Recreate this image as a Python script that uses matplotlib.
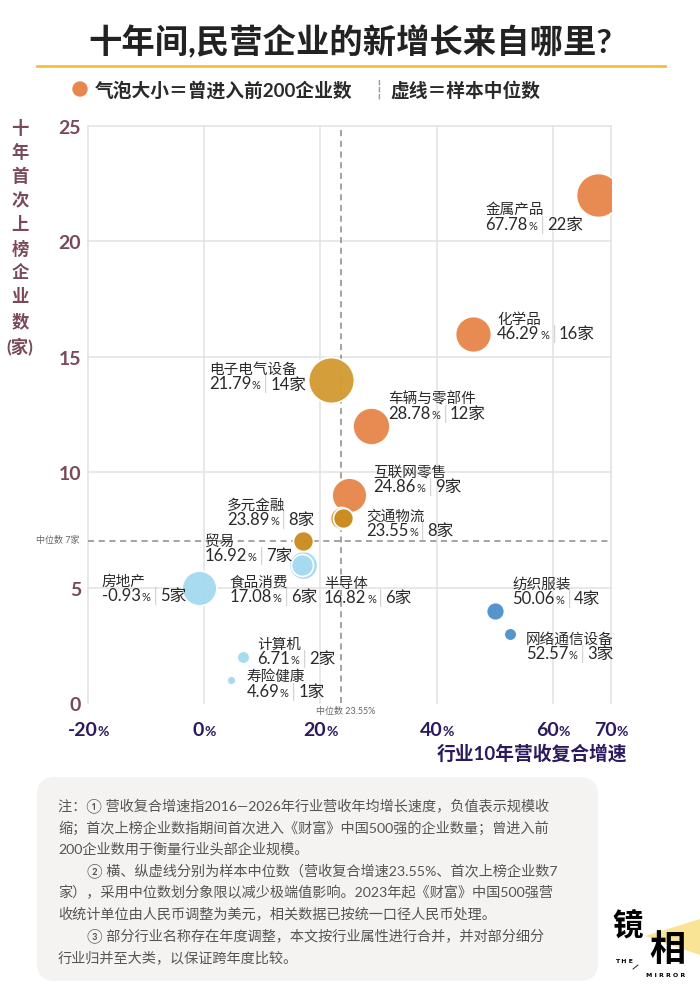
"""Bubble chart: where the new growth of private companies came from over ten years."""

import matplotlib.pyplot as plt
from matplotlib.offsetbox import AnnotationBbox, HPacker, TextArea, VPacker
from matplotlib.patches import Circle, FancyBboxPatch, Polygon

plt.rcParams["font.family"] = ["Lato", "Noto Sans CJK SC", "DejaVu Sans"]

W, H = 700, 1004

# --- data -------------------------------------------------------------------
industries = ["金属产品", "化学品", "车辆与零部件", "电子电气设备", "互联网零售",
              "交通物流", "多元金融", "贸易", "食品消费", "半导体", "房地产",
              "计算机", "寿险健康", "纺织服装", "网络通信设备"]
growth = [67.78, 46.29, 28.78, 21.79, 24.86, 23.55, 23.89, 16.92, 17.08,
          16.82, -0.93, 6.71, 4.69, 50.06, 52.57]
new_firms = [22, 16, 12, 14, 9, 8, 8, 7, 6, 6, 5, 2, 1, 4, 3]
top200 = [24, 16, 17, 26, 15, 6, 5, 5, 10, 6, 15, 2, 1, 4, 2]

median_growth = 23.55
median_firms = 7
x_ticks = [-20, 0, 20, 40, 60, 70]
y_ticks = [0, 5, 10, 15, 20, 25]

notes = [
    (58, "注：① 营收复合增速指2016—2026年行业营收年均增长速度，负值表示规模收"),
    (58, "缩；首次上榜企业数指期间首次进入《财富》中国500强的企业数量；曾进入前"),
    (58, "200企业数用于衡量行业头部企业规模。"),
    (87, "② 横、纵虚线分别为样本中位数（营收复合增速23.55%、首次上榜企业数7"),
    (58, "家），采用中位数划分象限以减少极端值影响。2023年起《财富》中国500强营"),
    (58, "收统计单位由人民币调整为美元，相关数据已按统一口径人民币处理。"),
    (87, "③ 部分行业名称存在年度调整，本文按行业属性进行合并，并对部分细分"),
    (58, "行业归并至大类，以保证跨年度比较。"),
]

# --- styles -------------------------------------------------------------------
ORANGE = "#E8874D"
GOLD = "#D39B33"
DGOLD = "#CB8D22"
LBLUE = "#A6DAF0"
BLUE = "#4F91CC"
TEXT = "#2a2a2a"
MAROON = "#7A4A5C"
INDIGO = "#2C1A5E"

colors = [ORANGE, ORANGE, ORANGE, GOLD, ORANGE, DGOLD, DGOLD, DGOLD,
          LBLUE, LBLUE, LBLUE, LBLUE, LBLUE, BLUE, BLUE]
# label offset of the name line (px from bubble centre: right, down)
label_offsets = [(-113, 16), (24, -13), (17, -26), (-122, -9), (25, -22),
                 (25, -1), (-116, -12), (-98, 1), (-74, 19), (22, 20),
                 (-97, -5), (14, -11), (15, -2), (17, -25), (16, 7)]


def px(v):
    return v * 72 / 100


def bubble_size(n):
    r = 4.5 * n ** 0.5
    return (2 * px(r)) ** 2


fig = plt.figure(figsize=(W / 100, H / 100), dpi=100)
bg = fig.add_axes([0, 0, 1, 1])
bg.set_xlim(0, W)
bg.set_ylim(H, 0)
bg.axis("off")

ax = fig.add_axes([88 / W, 1 - 704 / H, 523 / W, 577 / H])
ax.set_xlim(-20, 70)
ax.set_ylim(0, 25)
for s in ax.spines.values():
    s.set_visible(False)

for x in x_ticks:
    ax.plot([x, x], [0, 25], color="#e2e2e2", lw=1.1, zorder=0, clip_on=False)
for y in y_ticks[1:]:
    ax.plot([-20, 70], [y, y], color="#e2e2e2", lw=1.1, zorder=0, clip_on=False)

ax.axvline(median_growth, color="#8a8a8a", lw=1.1, dashes=(4, 3), zorder=1)
ax.axhline(median_firms, color="#8a8a8a", lw=1.1, dashes=(4, 3), zorder=1)

ax.set_xticks([])
ax.set_yticks(y_ticks)
ax.set_yticklabels([str(v) for v in y_ticks], fontsize=14, color=MAROON,
                   fontweight="bold")
ax.tick_params(axis="y", length=0, pad=5)

for x in x_ticks:
    lab = HPacker(children=[
        TextArea(f"{x}", textprops=dict(fontsize=14, color=INDIGO, fontweight="bold")),
        TextArea("%", textprops=dict(fontsize=10, color=INDIGO, fontweight="bold")),
    ], align="baseline", pad=0, sep=0)
    ax.add_artist(AnnotationBbox(lab, (x, 0), xycoords=("data", "axes fraction"),
                                 xybox=(0, px(-26)), boxcoords="offset points",
                                 box_alignment=(0.5, 0.5), frameon=False, pad=0))

# bubbles, biggest first so small ones stay visible
order = sorted(range(len(industries)), key=lambda i: -top200[i])
for i in order:
    ax.scatter(growth[i], new_firms[i], s=bubble_size(top200[i]), color=colors[i],
               edgecolor="white", linewidth=1.3, alpha=0.97, zorder=3)

for i, name in enumerate(industries):
    dx, dy = label_offsets[i]
    pct = HPacker(children=[
        TextArea(f"{growth[i]:.2f}", textprops=dict(fontsize=12, color=TEXT)),
        TextArea("%", textprops=dict(fontsize=8, color=TEXT)),
    ], align="baseline", pad=0, sep=0.5)
    line2 = HPacker(children=[
        pct,
        TextArea("|", textprops=dict(fontsize=12, color="#bbbbbb",
                                     family="DejaVu Sans", fontweight="light")),
        TextArea(f"{new_firms[i]}家", textprops=dict(fontsize=12, color=TEXT)),
    ], align="baseline", pad=0, sep=1.5)
    box = VPacker(children=[
        TextArea(name, textprops=dict(fontsize=10.5, color=TEXT, fontweight="medium")),
        line2,
    ], align="left", pad=0, sep=-1)
    ax.add_artist(AnnotationBbox(box, (growth[i], new_firms[i]), xycoords="data",
                                 xybox=(px(dx), -px(dy - 9)), boxcoords="offset points",
                                 box_alignment=(0, 1), frameon=False, pad=0, zorder=5))

# median captions
bg.text(80, 540, "中位数 7家", fontsize=6.5, color="#666666", ha="right", va="center")
bg.text(346, 712, "中位数 23.55%", fontsize=6.5, color="#666666", ha="center", va="center")


def quadrant_label(x, y, head, tail, color, bar_color):
    lab = HPacker(children=[
        TextArea(head, textprops=dict(fontsize=13, color=color, fontweight="bold")),
        TextArea("|", textprops=dict(fontsize=13, color=bar_color, family="DejaVu Sans")),
        TextArea(tail, textprops=dict(fontsize=13, color=color, fontweight="bold")),
    ], align="center", pad=0, sep=6)
    bg.add_artist(AnnotationBbox(lab, (x, y), xycoords="data", box_alignment=(0, 0.5),
                                 frameon=False, pad=0))


quadrant_label(389, 276, "右上", "扩张快 · 新巨头多", "#E5844A", "#F2C3A3")
quadrant_label(95, 624, "左下", "低增长 · 新巨头少", "#CF8E22", "#E9CB93")

# axis titles
for k, ch in enumerate(["十", "年", "首", "次", "上", "榜", "企", "业", "数", "(家)"]):
    bg.text(20, 128 + k * 24.2, ch, fontsize=12.5, color=MAROON, fontweight="bold",
            ha="center", va="center")
bg.text(532, 753, "行业10年营收复合增速", fontsize=13.5, color=INDIGO, fontweight="bold",
        ha="center", va="center")

# header
bg.text(350, 42, "十年间,民营企业的新增长来自哪里?", fontsize=24, color="#222222",
        fontweight="bold", ha="center", va="center")
bg.plot([37, 665], [67, 67], color="#F2BE3C", lw=2)
bg.add_patch(Circle((80, 90), 7, color=ORANGE))
bg.text(95, 90, "气泡大小＝曾进入前200企业数", fontsize=13.5, color=TEXT,
        fontweight="bold", ha="left", va="center")
bg.text(379, 90, "┆", fontsize=13, color="#999999", ha="center", va="center",
        family="DejaVu Sans")
bg.text(390, 90, "虚线＝样本中位数", fontsize=13.5, color=TEXT, fontweight="bold",
        ha="left", va="center")

# note box
bg.add_patch(FancyBboxPatch((55, 796), 525, 168, boxstyle="round,pad=18",
                            facecolor="#F4F3F1", edgecolor="none"))
for k, (x0, line) in enumerate(notes):
    bg.text(x0, 806 + k * 21.6, line, fontsize=10.2, color="#555555",
            ha="left", va="center")

# logo
bg.add_patch(Polygon([(645, 937), (700, 920), (700, 956)], closed=True,
                     facecolor="#F8DC7A", edgecolor="none", alpha=0.8))
bg.text(628, 925, "镜", fontsize=22, color="black", fontweight="heavy",
        ha="center", va="center")
bg.text(667, 950, "相", fontsize=26, color="black", fontweight="heavy",
        ha="center", va="center")
bg.text(624, 962, "T H E", fontsize=4.5, color="black", fontweight="bold",
        ha="center", va="center", family="DejaVu Sans")
bg.plot([633, 638], [970, 966], color="black", lw=0.6)
bg.text(666, 976, "M I R R O R", fontsize=4.5, color="black", fontweight="bold",
        ha="center", va="center", family="DejaVu Sans")

fig.savefig("out.png", dpi=100)
